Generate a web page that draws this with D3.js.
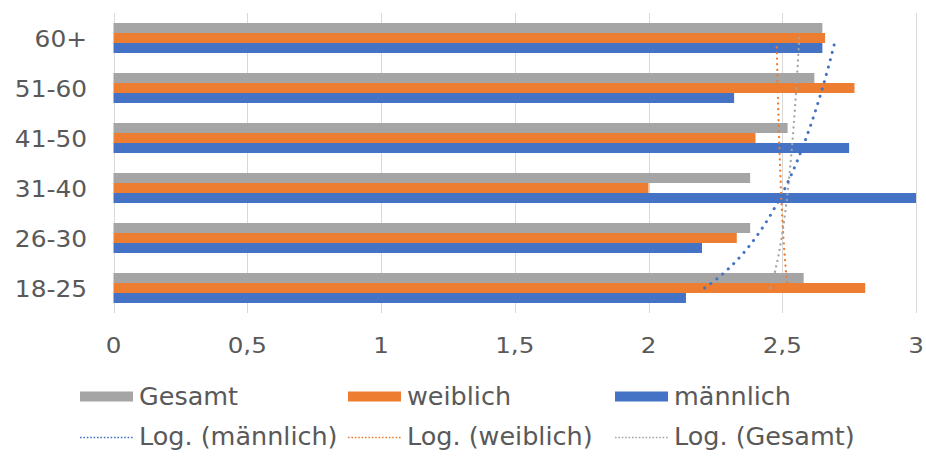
<!DOCTYPE html>
<html>
<head>
<meta charset="utf-8">
<script src="https://cdn.jsdelivr.net/npm/d3@7"></script>
<style>
  html, body { margin: 0; padding: 0; background: #fff; }
  svg { display: block; }
  text { font-family: "DejaVu Sans", Verdana, sans-serif; fill: #595959; }
</style>
</head>
<body>
<svg id="chart" width="926" height="456"></svg>
<script>
// Age groups, bottom to top (category order 1..6 used by the log trendlines)
const categories = ["18-25", "26-30", "31-40", "41-50", "51-60", "60+"];

// Mean ratings per age group
const gesamt    = [2.58, 2.38, 2.38, 2.52, 2.62, 2.65];
const weiblich  = [2.81, 2.33, 2.00, 2.40, 2.77, 2.66];
const maennlich = [2.14, 2.20, 3.00, 2.75, 2.32, 2.65];

const seriesNames = ["Gesamt", "weiblich", "männlich"];
const trendNames  = ["Log. (männlich)", "Log. (weiblich)", "Log. (Gesamt)"];
const xTicks      = [0, 0.5, 1, 1.5, 2, 2.5, 3];

const colors = { Gesamt: "#A5A5A5", weiblich: "#ED7D31", "männlich": "#4472C4" };

const seriesData = { Gesamt: gesamt, weiblich: weiblich, "männlich": maennlich };

const svg = d3.select("#chart");

// Scales
const x = d3.scaleLinear().domain([0, 3]).range([113.5, 916]);
const y = d3.scaleBand()
  .domain(categories.slice().reverse())
  .range([13, 313])
  .paddingInner(0.4)
  .paddingOuter(0.2);
const ySub = d3.scaleBand().domain(seriesNames).range([0, y.bandwidth()]);

const fmt = v => String(v).replace(".", ",");

// Vertical gridlines
svg.append("g")
  .selectAll("line")
  .data(xTicks)
  .join("line")
  .attr("x1", d => Math.round(x(d)) + 0.5)
  .attr("x2", d => Math.round(x(d)) + 0.5)
  .attr("y1", 13)
  .attr("y2", 313)
  .attr("stroke", "#D9D9D9")
  .attr("stroke-width", 1);

// X tick labels
svg.append("g")
  .selectAll("text")
  .data(xTicks)
  .join("text")
  .attr("transform", d => `translate(${x(d)},353) scale(1.2,1)`)
  .attr("text-anchor", "middle")
  .attr("font-size", 20.5)
  .text(fmt);

// Category labels
svg.append("g")
  .selectAll("text")
  .data(categories)
  .join("text")
  .attr("transform", d => `translate(87,${y(d) + y.bandwidth() / 2 + 8.5}) scale(1.08,1)`)
  .attr("text-anchor", "end")
  .attr("font-size", 23)
  .text(d => d);

// Bars
const groups = svg.append("g")
  .selectAll("g")
  .data(categories)
  .join("g")
  .attr("transform", d => `translate(0,${y(d)})`);

groups.selectAll("rect")
  .data((c, i) => seriesNames.map(s => ({ s, v: seriesData[s][i] })))
  .join("rect")
  .attr("x", x(0))
  .attr("y", d => ySub(d.s))
  .attr("width", d => x(d.v) - x(0))
  .attr("height", ySub.bandwidth())
  .attr("fill", d => colors[d.s]);

// Logarithmic trendlines: value = a*ln(i) + b, with i = 1..6 the category index
function logFit(values) {
  const xs = values.map((_, i) => Math.log(i + 1));
  const mx = d3.mean(xs), my = d3.mean(values);
  let sxy = 0, sxx = 0;
  xs.forEach((xv, i) => { sxy += (xv - mx) * (values[i] - my); sxx += (xv - mx) ** 2; });
  const a = sxy / sxx;
  return { a, b: my - a * mx };
}

const yIdx = d3.scaleLinear()
  .domain([1, categories.length])
  .range([y(categories[0]) + y.bandwidth() / 2, y(categories[categories.length - 1]) + y.bandwidth() / 2]);

const trendStyles = {
  "männlich": { width: 3.0, dash: "0.1 7.5" },
  weiblich:   { width: 2.3, dash: "0.1 5.5" },
  Gesamt:     { width: 2.3, dash: "0.1 5.5" }
};

const steps = d3.range(1, categories.length + 0.0001, 0.05);
const trendLine = d3.line().x(d => x(d.v)).y(d => yIdx(d.i));

["weiblich", "Gesamt", "männlich"].forEach(s => {
  const fit = logFit(seriesData[s]);
  const pts = steps.map(i => ({ i, v: fit.a * Math.log(i) + fit.b }));
  svg.append("path")
    .attr("d", trendLine(pts))
    .attr("fill", "none")
    .attr("stroke", colors[s])
    .attr("stroke-width", trendStyles[s].width)
    .attr("stroke-dasharray", trendStyles[s].dash)
    .attr("stroke-linecap", "round");
});

// Legend
const legendCols = [80, 348, 615];
const symW = 53;

const row1 = svg.append("g");
seriesNames.forEach((s, k) => {
  row1.append("rect")
    .attr("x", legendCols[k]).attr("y", 391.5)
    .attr("width", symW).attr("height", 10)
    .attr("fill", colors[s]);
  row1.append("text")
    .attr("transform", `translate(${legendCols[k] + symW + 6},405) scale(1.04,1)`)
    .attr("font-size", 24.5)
    .text(s);
});

const trendOrder = ["männlich", "weiblich", "Gesamt"];
const row2 = svg.append("g");
trendOrder.forEach((s, k) => {
  row2.append("line")
    .attr("x1", legendCols[k]).attr("x2", legendCols[k] + symW)
    .attr("y1", 437.5).attr("y2", 437.5)
    .attr("stroke", colors[s])
    .attr("stroke-width", 1.6)
    .attr("stroke-dasharray", "1.6 1.8");
  row2.append("text")
    .attr("transform", `translate(${legendCols[k] + symW + 6},445) scale(1.04,1)`)
    .attr("font-size", 24.5)
    .text(trendNames[k]);
});
</script>
</body>
</html>
